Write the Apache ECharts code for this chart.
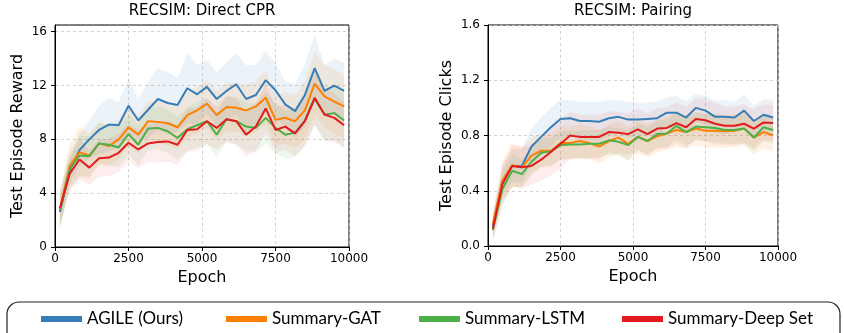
<!DOCTYPE html>
<html>
<head>
<meta charset="utf-8">
<script src="https://cdn.jsdelivr.net/npm/echarts@6/dist/echarts.min.js"></script>
<style>
  html, body { margin: 0; padding: 0; background: #fff; }
  #chart { width: 844px; height: 333px; }
</style>
</head>
<body>
<div id="chart"></div>
<script>
// epochs at which each run was evaluated
const epochs = [167, 500, 833, 1167, 1500, 1833, 2167, 2500, 2833, 3167,
  3500, 3833, 4167, 4500, 4833, 5167, 5500, 5833, 6167, 6500,
  6833, 7167, 7500, 7833, 8167, 8500, 8833, 9167, 9500, 9833];

const seriesNames = ['AGILE (Ours)', 'Summary-GAT', 'Summary-LSTM', 'Summary-Deep Set'];
const colors = ['#377eb8', '#ff7f00', '#4daf4a', '#e41a1c'];
const bandColors = ['rgba(55,126,184,0.1)', 'rgba(255,127,0,0.1)', 'rgba(77,175,74,0.1)', 'rgba(228,26,28,0.08)'];

// RECSIM: Direct CPR (mean reward)
const cprAgile = [2.6, 5.7, 7.2, 8.0, 8.7, 9.1, 9.05, 10.5, 9.4, 10.2, 11.0, 10.7, 10.55, 11.8, 11.35,
  11.9, 11.0, 11.6, 12.1, 11.0, 11.3, 12.4, 11.65, 10.6, 10.1, 11.3, 13.3, 11.6, 12.0, 11.6];
const cprGat = [2.8, 6.05, 7.03, 6.8, 7.7, 7.5, 8.0, 8.9, 8.35, 9.35, 9.3, 9.2, 8.9, 9.8, 10.15,
  10.65, 9.8, 10.4, 10.35, 10.15, 10.45, 11.1, 9.45, 9.6, 9.35, 10.15, 12.15, 11.2, 10.8, 10.45];
const cprLstm = [2.7, 5.8, 6.8, 6.75, 7.7, 7.6, 7.4, 8.4, 7.6, 8.8, 8.85, 8.6, 8.1, 8.75, 9.05,
  9.35, 8.35, 9.5, 9.35, 8.95, 8.85, 9.6, 8.85, 8.35, 8.5, 9.4, 11.0, 9.85, 9.95, 9.4];
const cprDeepSet = [2.9, 5.45, 6.5, 5.9, 6.6, 6.65, 7.0, 7.75, 7.25, 7.7, 7.8, 7.85, 7.6, 8.7, 8.75,
  9.35, 8.85, 9.5, 9.35, 8.35, 8.95, 10.3, 8.7, 8.95, 8.45, 9.35, 11.1, 9.85, 9.6, 9.05];
// half width of the shaded bands
const cprAgileSd = [1.2, 0.9, 1.2, 1.4, 1.8, 2.0, 1.7, 2.0, 1.6, 2.1, 2.3, 2.3, 2.0, 2.6, 2.2,
  2.0, 2.0, 2.1, 2.3, 2.5, 2.2, 2.2, 2.0, 1.7, 2.0, 2.3, 2.4, 1.9, 2.0, 2.1];
const cprGatSd = [1.3, 1.6, 1.9, 1.7, 1.6, 1.5, 1.5, 1.4, 1.4, 1.5, 1.6, 1.6, 1.6, 1.7, 1.7,
  1.8, 1.8, 1.8, 1.8, 1.9, 1.9, 2.0, 1.9, 1.9, 2.0, 2.1, 2.4, 2.3, 2.4, 2.4];
const cprLstmSd = [1.2, 1.4, 1.5, 1.5, 1.5, 1.5, 1.5, 1.5, 1.5, 1.6, 1.6, 1.6, 1.6, 1.6, 1.7,
  1.7, 1.7, 1.7, 1.8, 1.8, 1.8, 1.9, 1.9, 1.8, 1.8, 1.9, 2.0, 2.0, 2.0, 2.0];
const cprDeepSetSd = [1.3, 1.3, 1.5, 1.3, 1.4, 1.4, 1.4, 1.4, 1.4, 1.4, 1.5, 1.5, 1.5, 1.6, 1.6,
  1.7, 1.6, 1.7, 1.7, 1.6, 1.8, 1.8, 1.7, 1.7, 1.7, 1.8, 2.0, 1.9, 1.8, 1.7];

// RECSIM: Pairing (mean clicks)
const pairAgile = [0.15, 0.47, 0.58, 0.58, 0.72, 0.79, 0.86, 0.92, 0.925, 0.905, 0.905, 0.9, 0.925, 0.935, 0.915,
  0.915, 0.92, 0.925, 0.965, 0.965, 0.93, 1.0, 0.98, 0.935, 0.935, 0.93, 0.98, 0.905, 0.95, 0.93];
const pairGat = [0.16, 0.475, 0.585, 0.57, 0.655, 0.69, 0.69, 0.745, 0.745, 0.76, 0.745, 0.72, 0.76, 0.785, 0.74,
  0.79, 0.76, 0.795, 0.815, 0.84, 0.825, 0.85, 0.835, 0.835, 0.83, 0.835, 0.85, 0.785, 0.825, 0.8];
const pairLstm = [0.115, 0.415, 0.545, 0.52, 0.61, 0.675, 0.685, 0.73, 0.735, 0.735, 0.74, 0.74, 0.765, 0.755, 0.73,
  0.79, 0.76, 0.81, 0.815, 0.87, 0.825, 0.865, 0.86, 0.855, 0.84, 0.84, 0.85, 0.785, 0.86, 0.84];
const pairDeepSet = [0.125, 0.45, 0.58, 0.57, 0.58, 0.625, 0.68, 0.74, 0.8, 0.79, 0.79, 0.79, 0.825, 0.82, 0.81,
  0.845, 0.81, 0.85, 0.855, 0.89, 0.86, 0.92, 0.91, 0.885, 0.87, 0.87, 0.885, 0.85, 0.895, 0.89];
const pairAgileSd = [0.06, 0.1, 0.12, 0.12, 0.13, 0.14, 0.14, 0.14, 0.13, 0.14, 0.14, 0.14, 0.13, 0.12, 0.13,
  0.12, 0.12, 0.12, 0.11, 0.12, 0.12, 0.1, 0.11, 0.12, 0.12, 0.11, 0.12, 0.11, 0.11, 0.13];
const pairGatSd = [0.1, 0.14, 0.16, 0.14, 0.13, 0.12, 0.12, 0.12, 0.12, 0.12, 0.12, 0.12, 0.12, 0.12, 0.12,
  0.12, 0.12, 0.12, 0.12, 0.12, 0.12, 0.12, 0.12, 0.12, 0.12, 0.12, 0.12, 0.12, 0.12, 0.12];
const pairLstmSd = [0.08, 0.12, 0.12, 0.1, 0.1, 0.1, 0.1, 0.1, 0.1, 0.1, 0.1, 0.1, 0.1, 0.1, 0.11,
  0.1, 0.1, 0.1, 0.1, 0.1, 0.1, 0.1, 0.1, 0.1, 0.1, 0.1, 0.11, 0.1, 0.1, 0.1];
const pairDeepSetSd = [0.1, 0.14, 0.15, 0.15, 0.14, 0.15, 0.17, 0.18, 0.17, 0.16, 0.16, 0.16, 0.15, 0.15, 0.15,
  0.15, 0.15, 0.15, 0.15, 0.15, 0.15, 0.15, 0.15, 0.15, 0.14, 0.14, 0.14, 0.14, 0.13, 0.13];

const cprTicks = [0, 4, 8, 12, 16];

const FONT = 'DejaVu Sans';

const pairs = (vals) => vals.map((v, i) => [epochs[i], v]);

// shaded mean ± spread region, drawn as one polygon through the axis scales
function band(mean, sd, fill, idx) {
  return {
    type: 'custom',
    coordinateSystem: 'cartesian2d',
    xAxisIndex: idx,
    yAxisIndex: idx,
    silent: true,
    z: 1,
    clip: true,
    data: [[epochs[0], mean[0]]],
    renderItem: (params, api) => {
      const upper = mean.map((v, i) => api.coord([epochs[i], v + sd[i]]));
      const lower = mean.map((v, i) => api.coord([epochs[i], v - sd[i]])).reverse();
      return {
        type: 'polygon',
        shape: { points: upper.concat(lower) },
        style: { fill, stroke: null },
      };
    },
  };
}

function line(name, mean, color, idx) {
  return {
    name,
    type: 'line',
    xAxisIndex: idx,
    yAxisIndex: idx,
    data: pairs(mean),
    symbol: 'none',
    color,
    lineStyle: { width: 2, color },
    z: 3,
  };
}

const cprMeans = [cprAgile, cprGat, cprLstm, cprDeepSet];
const cprSds = [cprAgileSd, cprGatSd, cprLstmSd, cprDeepSetSd];
const pairMeans = [pairAgile, pairGat, pairLstm, pairDeepSet];
const pairSds = [pairAgileSd, pairGatSd, pairLstmSd, pairDeepSetSd];

const series = [];
[[cprMeans, cprSds], [pairMeans, pairSds]].forEach(([means, sds], idx) => {
  means.forEach((m, i) => series.push(band(m, sds[i], bandColors[i], idx)));
  means.forEach((m, i) => series.push(line(seriesNames[i], m, colors[i], idx)));
});

const grids = [
  { left: 55, top: 25, width: 294, height: 222 },
  { left: 488, top: 25, width: 290, height: 221 },
];

const gridLine = { show: true, lineStyle: { color: '#c8c8c8', type: [3, 3], width: 0.8 } };
const tickLabel = { color: '#000', fontFamily: FONT, fontSize: 12 };

function xAxis(idx) {
  return {
    type: 'value',
    gridIndex: idx,
    min: 0,
    max: 10000,
    interval: 2500,
    name: 'Epoch',
    nameLocation: 'middle',
    nameGap: 22,
    nameTextStyle: { color: '#000', fontFamily: FONT, fontSize: 16 },
    axisLine: { show: true, onZero: false, lineStyle: { color: '#000', width: 1 } },
    axisTick: { show: true, inside: false, length: 4, lineStyle: { color: '#000' } },
    axisLabel: { ...tickLabel, margin: 6, formatter: (v) => String(v) },
    splitLine: gridLine,
  };
}

const option = {
  animation: false,
  backgroundColor: '#fff',
  title: [
    { text: 'RECSIM: Direct CPR', left: 202, top: 4, textAlign: 'center', padding: 0,
      textStyle: { color: '#000', fontFamily: FONT, fontSize: 15, fontWeight: 'normal' } },
    { text: 'RECSIM: Pairing', left: 633, top: 4, textAlign: 'center', padding: 0,
      textStyle: { color: '#000', fontFamily: FONT, fontSize: 15, fontWeight: 'normal' } },
  ],
  grid: grids.map((g) => ({ ...g, show: true, borderColor: '#000', borderWidth: 1, backgroundColor: 'transparent' })),
  xAxis: [xAxis(0), xAxis(1)],
  yAxis: [
    {
      type: 'value',
      gridIndex: 0,
      min: 0,
      max: 16.5,
      interval: 4,
      name: 'Test Episode Reward',
      nameLocation: 'middle',
      nameGap: 29,
      nameTextStyle: { color: '#000', fontFamily: FONT, fontSize: 16 },
      axisLine: { show: true, lineStyle: { color: '#000', width: 1 } },
      axisTick: { show: true, length: 4, customValues: cprTicks, lineStyle: { color: '#000' } },
      axisLabel: { ...tickLabel, margin: 8, customValues: cprTicks, formatter: (v) => String(v) },
      splitLine: gridLine,
    },
    {
      type: 'value',
      gridIndex: 1,
      min: 0,
      max: 1.6,
      interval: 0.4,
      name: 'Test Episode Clicks',
      nameLocation: 'middle',
      nameGap: 33,
      nameTextStyle: { color: '#000', fontFamily: FONT, fontSize: 16 },
      axisLine: { show: true, lineStyle: { color: '#000', width: 1 } },
      axisTick: { show: true, length: 4, lineStyle: { color: '#000' } },
      axisLabel: { ...tickLabel, margin: 8, formatter: (v) => v.toFixed(1) },
      splitLine: gridLine,
    },
  ],
  legend: seriesNames.map((n, i) => ({
    data: [n],
    left: [41, 226, 419, 622][i],
    top: 309,
    padding: 0,
    icon: 'rect',
    itemWidth: 41,
    itemHeight: 6,
    selectedMode: false,
    itemStyle: { color: colors[i] },
    textStyle: { color: '#000', fontFamily: 'Lato', fontSize: 17, lineHeight: 20 },
  })),
  graphic: [
    {
      type: 'rect',
      shape: { x: 7, y: 302, width: 833, height: 45, r: 12 },
      style: { fill: 'none', stroke: '#222', lineWidth: 1.2 },
      silent: true,
    },
  ],
  series,
};

const chart = echarts.init(document.getElementById('chart'), null, { renderer: 'canvas' });
chart.setOption(option);
</script>
</body>
</html>
